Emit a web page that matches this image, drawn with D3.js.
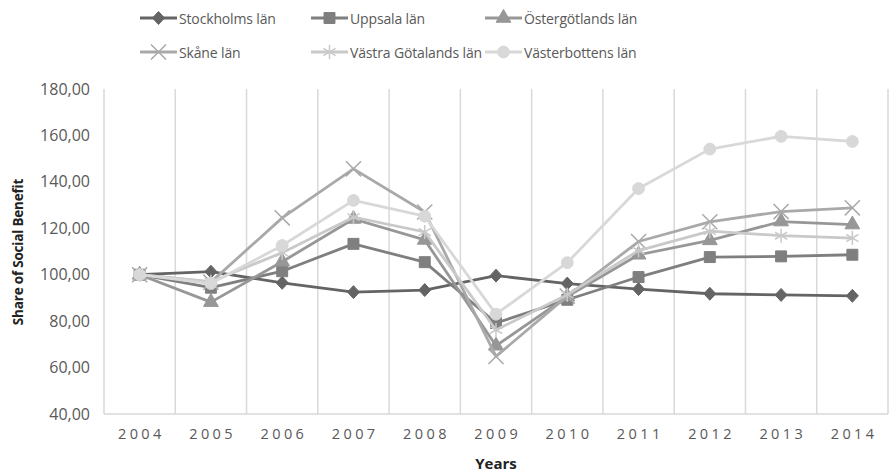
<!DOCTYPE html>
<html>
<head>
<meta charset="utf-8">
<script src="https://cdn.jsdelivr.net/npm/d3@7"></script>
<style>
  body { margin: 0; background: #fff; }
  svg { display: block; }
  text { font-family: "Open Sans", "Noto Sans", sans-serif; }
</style>
</head>
<body>
<svg id="chart" width="889" height="474"></svg>
<script>
// Years on the category axis
const years = ["2004","2005","2006","2007","2008","2009","2010","2011","2012","2013","2014"];

// Index values per county (2004 = 100)
const stockholm      = [100, 101.3, 96.5, 92.5, 93.4, 99.6, 96.2, 93.8, 91.8, 91.3, 90.9];
const uppsala        = [100, 94.4, 101.5, 113.3, 105.4, 79.2, 89.2, 99.0, 107.6, 107.9, 108.6];
const ostergotland   = [100, 88.2, 105.6, 124.0, 115.0, 69.4, 90.6, 108.6, 114.8, 122.9, 121.6];
const skane          = [100, 96.8, 124.5, 145.6, 127.0, 64.8, 90.8, 114.3, 122.8, 127.2, 128.8];
const vastraGotaland = [100, 97.0, 109.5, 124.8, 118.4, 76.2, 91.4, 110.4, 118.8, 116.8, 115.8];
const vasterbotten   = [100, 96.2, 112.6, 132.0, 125.2, 83.0, 105.2, 137.1, 154.1, 159.6, 157.4];

// A rhombus roughly as wide as it is tall
const squatDiamond = {
  draw(context, size) {
    const r = Math.sqrt(size / 2);
    context.moveTo(0, -r * 1.08);
    context.lineTo(r, 0);
    context.lineTo(0, r * 1.08);
    context.lineTo(-r, 0);
    context.closePath();
  }
};

const seriesNames  = ["Stockholms län","Uppsala län","Östergötlands län","Skåne län","Västra Götalands län","Västerbottens län"];
const seriesValues = [stockholm, uppsala, ostergotland, skane, vastraGotaland, vasterbotten];
const seriesColors = ["#646464","#7f7f7f","#979797","#a9a9a9","#c9c9c9","#d8d8d8"];
const seriesShapes = [squatDiamond, d3.symbolSquare, d3.symbolTriangle, d3.symbolX, d3.symbolAsterisk, d3.symbolCircle];
const shapeStroked = [false, false, false, true, true, false];
const shapeSizes   = [72, 120, 95, 150, 140, 110];

const yTicks = [40, 60, 80, 100, 120, 140, 160, 180];

const svg = d3.select("#chart");
const plot = { left: 104, right: 888, top: 89, bottom: 414 };

const x = d3.scaleBand().domain(years).range([plot.left, plot.right]).padding(0);
const y = d3.scaleLinear().domain([40, 180]).range([plot.bottom, plot.top]);

const gridColor = "#d9d9d9";

// Vertical separators between year categories
const bounds = years.map(d => x(d)).concat([plot.right]);
svg.append("g").selectAll("line").data(bounds).join("line")
  .attr("x1", d => d).attr("x2", d => d)
  .attr("y1", plot.top).attr("y2", plot.bottom)
  .attr("stroke", gridColor).attr("stroke-width", 1.5);

// Bottom axis line
svg.append("line")
  .attr("x1", plot.left).attr("x2", plot.right)
  .attr("y1", plot.bottom).attr("y2", plot.bottom)
  .attr("stroke", gridColor).attr("stroke-width", 1.5);

// Y tick labels
const fmt = v => d3.format(".2f")(v).replace(".", ",");
const yAxis = d3.axisLeft(y).tickValues(yTicks).tickFormat(fmt).tickSize(0).tickPadding(14);
const gy = svg.append("g").attr("transform", `translate(${plot.left},0)`).call(yAxis);
gy.select(".domain").remove();
gy.selectAll("text").attr("fill", "#595959").style("font-size", "16px")
  .style("font-family", "'Open Sans', sans-serif");

// X tick labels (letter-spaced)
const xAxis = d3.axisBottom(x).tickSize(0).tickPadding(15);
const gx = svg.append("g").attr("transform", `translate(0,${plot.bottom})`).call(xAxis);
gx.select(".domain").remove();
gx.selectAll("text").attr("fill", "#595959").style("font-size", "14.5px")
  .style("letter-spacing", "3.4px").attr("dx", "1.7px")
  .style("font-family", "'Open Sans', sans-serif");

// Axis titles
svg.append("text").attr("x", x("2009") + x.bandwidth() / 2).attr("y", 469)
  .attr("text-anchor", "middle").style("font-size", "15px").style("font-weight", "bold")
  .attr("fill", "#222").text("Years");
svg.append("text").attr("transform", `translate(23,252) rotate(-90)`)
  .attr("text-anchor", "middle").style("font-size", "13.5px").style("font-weight", "bold")
  .style("letter-spacing", "-0.2px")
  .attr("fill", "#222").text("Share of Social Benefit");

// Lines and markers
const line = d3.line().x((d, i) => x(years[i]) + x.bandwidth() / 2).y(d => y(d));

function drawMarker(sel, k) {
  const sym = d3.symbol().type(seriesShapes[k]).size(shapeSizes[k]);
  sel.attr("d", sym)
    .attr("fill", shapeStroked[k] ? "none" : seriesColors[k])
    .attr("stroke", seriesColors[k])
    .attr("stroke-width", shapeStroked[k] ? 1.5 : 1);
}

seriesValues.forEach((vals, k) => {
  const g = svg.append("g");
  g.append("path").datum(vals).attr("d", line)
    .attr("fill", "none").attr("stroke", seriesColors[k]).attr("stroke-width", 2.8)
    .attr("stroke-linejoin", "round");
  g.selectAll("path.m").data(vals).join("path").attr("class", "m")
    .attr("transform", (d, i) => `translate(${x(years[i]) + x.bandwidth() / 2},${y(d)})`)
    .call(drawMarker, k);
});

// Legend
const legendCols = [140, 311, 485];
const legendRows = [18, 52];
seriesNames.forEach((name, k) => {
  const lx = legendCols[k % 3], ly = legendRows[Math.floor(k / 3)];
  const g = svg.append("g").attr("transform", `translate(${lx},${ly})`);
  g.append("line").attr("x1", 0).attr("x2", 37).attr("y1", 0).attr("y2", 0)
    .attr("stroke", seriesColors[k]).attr("stroke-width", 2.8);
  g.append("path").attr("transform", "translate(18.5,0)").call(drawMarker, k);
  g.append("text").attr("x", 39).attr("y", 5.5).style("font-size", "14px")
    .style("letter-spacing", "-0.15px")
    .attr("fill", "#595959").text(name);
});
</script>
</body>
</html>
